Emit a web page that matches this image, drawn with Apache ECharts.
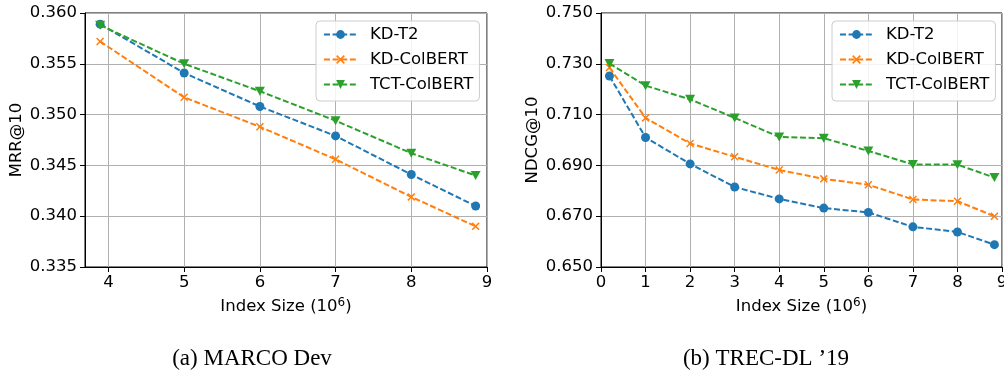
<!DOCTYPE html>
<html>
<head>
<meta charset="utf-8">
<script src="https://cdn.jsdelivr.net/npm/echarts@6/dist/echarts.min.js"></script>
<style>
html,body{margin:0;padding:0;background:#fff;}
#c{width:1004px;height:374px;}
</style>
</head>
<body>
<div id="c"></div>
<script>
// ---- data ----
const seriesNames = ['KD-T2', 'KD-ColBERT', 'TCT-ColBERT'];

// (a) MARCO Dev
const marcoX = [3.89, 5, 6, 7, 8, 8.85];
const marcoKDT2 = [0.3589, 0.3541, 0.3508, 0.3479, 0.3441, 0.3410];
const marcoKDColBERT = [0.3572, 0.3517, 0.3488, 0.3456, 0.3419, 0.3390];
const marcoTCTColBERT = [0.3588, 0.3550, 0.3523, 0.3494, 0.3462, 0.3440];
const marcoXTicks = [4, 5, 6, 7, 8, 9];

// (b) TREC-DL '19
const trecX = [0.19, 1, 2, 3, 4, 5, 6, 7, 8, 8.83];
const trecKDT2 = [0.7252, 0.7010, 0.6906, 0.6815, 0.6768, 0.6732, 0.6715, 0.6658, 0.6638, 0.6588];
const trecKDColBERT = [0.7285, 0.7087, 0.6986, 0.6934, 0.6882, 0.6847, 0.6824, 0.6766, 0.6759, 0.6700];
const trecTCTColBERT = [0.7301, 0.7214, 0.7160, 0.7087, 0.7012, 0.7007, 0.6957, 0.6904, 0.6903, 0.6852];
const trecXTicks = [0, 1, 2, 3, 4, 5, 6, 7, 8, 9];

const xName = 'Index Size (10{s|6})';
const yNames = ['MRR@10', 'NDCG@10'];
const captions = ['(a) MARCO Dev', '(b) TREC-DL \u201919'];

// ---- styling ----
const FONT = 'DejaVu Sans';
const FS = 16.5;
const colors = ['#1f77b4', '#ff7f0e', '#2ca02c'];
const crossPath = 'path://M0,1.3L1.3,0L5,3.7L8.7,0L10,1.3L6.3,5L10,8.7L8.7,10L5,6.3L1.3,10L0,8.7L3.7,5Z';
const triDownPath = 'path://M0,0L10,0L5,9Z';
const symbols = ['circle', crossPath, triDownPath];
const symbolSizes = [9, 8, [10, 9]];

function pairs(xs, ys) { return xs.map((x, i) => [x, ys[i]]); }

function makeSeries(gi, xs, ysList) {
  return ysList.map((ys, k) => ({
    name: seriesNames[k],
    type: 'line',
    xAxisIndex: gi,
    yAxisIndex: gi,
    data: pairs(xs, ys),
    symbol: symbols[k],
    symbolSize: symbolSizes[k],
    showSymbol: true,
    lineStyle: { color: colors[k], width: 2, type: [6, 2.6] },
    itemStyle: { color: colors[k], borderWidth: 0 },
    emphasis: { disabled: true },
    z: 2 + k,
    animation: false
  }));
}

const axisCommon = {
  axisLine: { show: true, onZero: false, lineStyle: { color: '#000', width: 1 } },
  axisTick: { show: true, inside: false, length: 5, lineStyle: { color: '#000', width: 1 } },
  splitLine: { show: true, lineStyle: { color: '#b0b0b0', width: 1 } }
};

function xAxis(gi, min, max, ticks) {
  return Object.assign({}, axisCommon, {
    type: 'value', gridIndex: gi, min: min, max: max,
    name: xName, nameLocation: 'middle', nameGap: 30,
    nameTextStyle: { fontFamily: FONT, fontSize: FS, color: '#000', lineHeight: 19,
      rich: { s: { fontFamily: FONT, fontSize: 12, lineHeight: 12, verticalAlign: 'top', color: '#000' } } },
    axisTick: Object.assign({}, axisCommon.axisTick, { customValues: ticks }),
    axisLabel: { customValues: ticks, fontFamily: FONT, fontSize: FS, color: '#000', margin: 7,
      formatter: v => String(v) }
  });
}
function yAxis(gi, min, max, interval, name) {
  return Object.assign({}, axisCommon, {
    type: 'value', gridIndex: gi, min: min, max: max, interval: interval,
    name: name, nameLocation: 'middle', nameGap: 60,
    nameTextStyle: { fontFamily: FONT, fontSize: FS, color: '#000' },
    axisLabel: { fontFamily: FONT, fontSize: FS, color: '#000', margin: 8,
      formatter: v => v.toFixed(3) }
  });
}

function legend(left) {
  return {
    left: left, top: 21, orient: 'vertical',
    data: seriesNames,
    padding: [5, 6, 8, 7],
    itemGap: 8, itemWidth: 33, itemHeight: 11,
    selectedMode: false,
    textStyle: { fontFamily: FONT, fontSize: FS, color: '#000', lineHeight: 16, padding: [0, 0, 0, 8] },
    backgroundColor: 'rgba(255,255,255,0.85)',
    borderColor: '#cccccc', borderWidth: 1, borderRadius: 4
  };
}

const chart = echarts.init(document.getElementById('c'), null, { renderer: 'canvas' });
chart.setOption({
  animation: false,
  backgroundColor: '#fff',
  textStyle: { fontFamily: FONT },
  grid: [
    { left: 85, right: 517, top: 13, bottom: 107, show: true, borderColor: '#000', borderWidth: 1, backgroundColor: 'transparent', containLabel: false, outerBoundsMode: 'none' },
    { left: 601, right: 2, top: 13, bottom: 107, show: true, borderColor: '#000', borderWidth: 1, backgroundColor: 'transparent', containLabel: false, outerBoundsMode: 'none' }
  ],
  xAxis: [xAxis(0, 3.69, 9, marcoXTicks), xAxis(1, 0, 9, trecXTicks)],
  yAxis: [yAxis(0, 0.335, 0.360, 0.005, yNames[0]), yAxis(1, 0.650, 0.750, 0.020, yNames[1])],
  legend: [legend(316), legend(832)],
  series: [].concat(
    makeSeries(0, marcoX, [marcoKDT2, marcoKDColBERT, marcoTCTColBERT]),
    makeSeries(1, trecX, [trecKDT2, trecKDColBERT, trecTCTColBERT])
  ),
  graphic: [
    { type: 'text', x: 252, y: 359, style: { text: captions[0], fontFamily: 'Liberation Serif', fontSize: 23, fill: '#000', align: 'center', verticalAlign: 'middle' } },
    { type: 'text', x: 766, y: 359, style: { text: captions[1], fontFamily: 'Liberation Serif', fontSize: 23, fill: '#000', align: 'center', verticalAlign: 'middle' } }
  ]
});
</script>
</body>
</html>
